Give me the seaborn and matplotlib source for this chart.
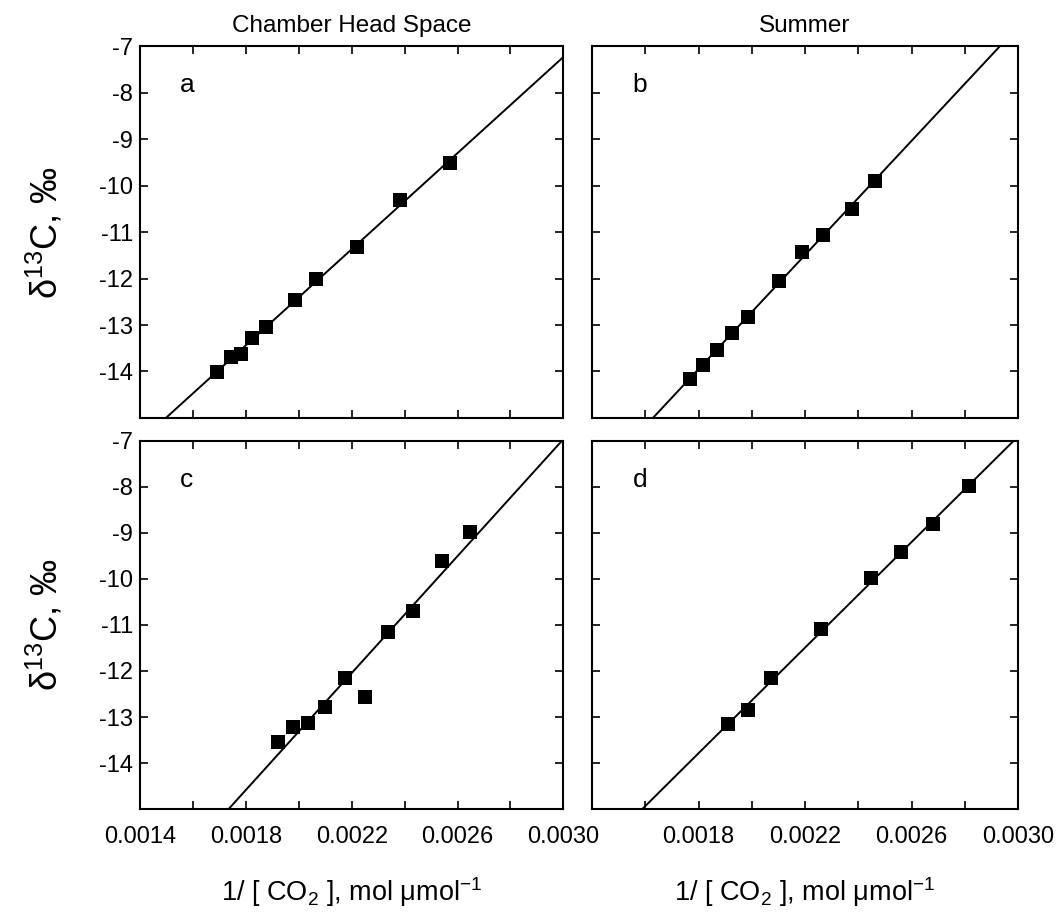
import numpy as np
import pandas as pd
import matplotlib
matplotlib.use("Agg")
import matplotlib.pyplot as plt
import seaborn as sns

# values (x = 1/[CO2], y = delta 13C)
a_x = [0.001692, 0.001743, 0.001782, 0.001822, 0.001877, 0.001984, 0.002066, 0.002220, 0.002381, 0.002573]
a_y = [-14.02, -13.69, -13.62, -13.29, -13.04, -12.46, -12.02, -11.33, -10.31, -9.52]

b_x = [0.001768, 0.001818, 0.001868, 0.001927, 0.001985, 0.002102, 0.002190, 0.002269, 0.002375, 0.002463]
b_y = [-14.16, -13.87, -13.54, -13.18, -12.82, -12.05, -11.42, -11.06, -10.51, -9.90]

c_x = [0.001921, 0.001978, 0.002033, 0.002100, 0.002173, 0.002251, 0.002339, 0.002430, 0.002541, 0.002648]
c_y = [-13.54, -13.21, -13.12, -12.79, -12.15, -12.56, -11.15, -10.70, -9.60, -8.99]

d_x = [0.001910, 0.001987, 0.002071, 0.002260, 0.002447, 0.002559, 0.002682, 0.002816]
d_y = [-13.16, -12.85, -12.16, -11.09, -9.98, -9.42, -8.81, -7.98]

panel_letters = ["a", "b", "c", "d"]
col_titles = ["Chamber Head Space", "Summer"]
x_ticks_major = [0.0014, 0.0016, 0.0018, 0.0020, 0.0022, 0.0024, 0.0026, 0.0028, 0.0030]
x_labels = ["0.0014", "", "0.0018", "", "0.0022", "", "0.0026", "", "0.0030"]
y_ticks = [-15, -14, -13, -12, -11, -10, -9, -8, -7]
y_labels = ["", "-14", "-13", "-12", "-11", "-10", "-9", "-8", "-7"]

sns.set_theme(style="ticks")
plt.rcParams["font.family"] = ["Liberation Sans", "DejaVu Sans"]
plt.rcParams["mathtext.fontset"] = "custom"
plt.rcParams["mathtext.rm"] = "Liberation Sans"
plt.rcParams["mathtext.it"] = "Liberation Sans"
plt.rcParams["axes.linewidth"] = 1.5
plt.rcParams["text.color"] = "black"
plt.rcParams["axes.labelcolor"] = "black"
plt.rcParams["axes.edgecolor"] = "black"

fig = plt.figure(figsize=(10.61, 9.18), dpi=100)

# axes boxes in figure fractions (left, bottom, width, height)
boxes = [
    [0.132, 0.5447, 0.399, 0.405],
    [0.558, 0.5447, 0.4015, 0.405],
    [0.132, 0.1187, 0.399, 0.401],
    [0.558, 0.1187, 0.4015, 0.401],
]
data = [(a_x, a_y), (b_x, b_y), (c_x, c_y), (d_x, d_y)]

for i, (box, (xs, ys)) in enumerate(zip(boxes, data)):
    ax = fig.add_axes(box)
    ax.set_xlim(0.0014, 0.0030)
    ax.set_ylim(-15, -7)
    df = pd.DataFrame({"x": xs, "y": ys})
    # least-squares line drawn across the whole x range
    sns.regplot(
        data=df,
        x="x",
        y="y",
        ax=ax,
        ci=None,
        truncate=False,
        marker="s",
        color="black",
        scatter_kws={"s": 100, "linewidths": 0, "alpha": 1},
        line_kws={"linewidth": 1.4},
    )
    ax.set_xlim(0.0014, 0.0030)
    ax.set_ylim(-15, -7)
    ax.set_xticks(x_ticks_major)
    ax.set_yticks(y_ticks)
    ax.tick_params(direction="in", length=6, width=1.2, top=True, right=True,
                   labelsize=17, colors="black")
    ax.tick_params(axis="x", pad=12)
    ax.tick_params(axis="y", pad=5)
    ax.set_xlabel("")
    ax.set_ylabel("")

    if i >= 2:
        labs = list(x_labels)
        if i == 3:
            labs[0] = ""
        ax.set_xticklabels(labs)
    else:
        ax.set_xticklabels([])
    if i % 2 == 0:
        ax.set_yticklabels(y_labels)
    else:
        ax.set_yticklabels([])

    ax.text(0.095, 0.895, panel_letters[i], transform=ax.transAxes,
            fontsize=19, ha="left", va="center")

    if i < 2:
        ax.set_title(col_titles[i], fontsize=17.5, pad=10)
    if i % 2 == 0:
        ax.set_ylabel("δ$^{13}$C, ‰", fontsize=26, labelpad=24)
    if i >= 2:
        ax.set_xlabel("1/ [ CO$_2$ ], mol μmol$^{-1}$", fontsize=19.5, labelpad=20)

fig.savefig("out.png", dpi=100)
